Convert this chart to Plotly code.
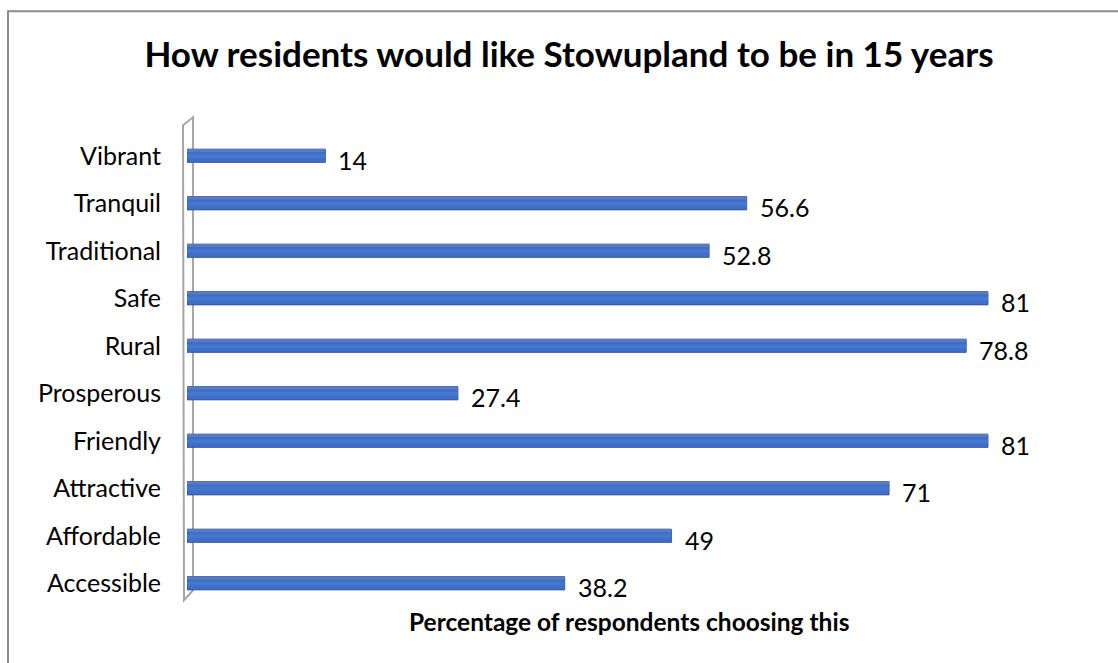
import plotly.graph_objects as go

categories = ["Accessible", "Affordable", "Attractive", "Friendly", "Prosperous",
              "Rural", "Safe", "Traditional", "Tranquil", "Vibrant"]
values = [38.2, 49, 71, 81, 27.4, 78.8, 81, 52.8, 56.6, 14]
value_labels = ["38.2", "49", "71", "81", "27.4", "78.8", "81", "52.8", "56.6", "14"]

W, H = 1118, 663
L, R = 187, 1077
T, B = 131.75, 606.75

def px(x):
    return (x - L) / (R - L)

def py(y):
    return (B - y) / (B - T)

FONT = "Lato"

fig = go.Figure()
# front face
fig.add_trace(go.Bar(
    x=values, y=categories, orientation="h",
    width=0.28, offset=-0.14,
    marker=dict(color="#3F6DC7", line=dict(color="#2F528F", width=0.8)),
    hoverinfo="x+y",
))
# top face (3D effect)
fig.add_trace(go.Bar(
    x=values, y=categories, orientation="h",
    width=0.06, offset=0.08,
    marker=dict(color="#5A7BBE", line=dict(width=0)),
    hoverinfo="skip",
))
# lighter highlight on the front face
fig.add_trace(go.Bar(
    x=values, y=categories, orientation="h",
    width=0.08, offset=-0.05,
    marker=dict(color="#4677CF", line=dict(width=0)),
    hoverinfo="skip",
))

annotations = []
for v, c, t in zip(values, categories, value_labels):
    annotations.append(dict(x=v, y=c, xref="x", yref="y", text=t, showarrow=False,
                            xanchor="left", yanchor="middle", xshift=11, yshift=-4,
                            font=dict(family=FONT, size=25, color="#000000")))

annotations.append(dict(x=px(629), y=py(621), xref="paper", yref="paper",
                        text="<b>Percentage of respondents choosing this</b>",
                        showarrow=False, xanchor="center", yanchor="middle",
                        font=dict(family=FONT, size=24.5, color="#000000")))

shapes = [
    # chart border
    dict(type="rect", xref="paper", yref="paper",
         x0=px(8), x1=px(1140), y0=py(11), y1=py(700),
         line=dict(color="#8C8C8C", width=2), fillcolor="rgba(0,0,0,0)", layer="below"),
    # 3D wall
    dict(type="path", xref="paper", yref="paper",
         path=f"M {px(183)},{py(125)} L {px(193)},{py(117)} L {px(193)},{py(590)} L {px(184)},{py(600)} Z",
         line=dict(color="#A6A6A6", width=2), fillcolor="rgba(0,0,0,0)", layer="below"),
]

fig.update_layout(
    width=W, height=H,
    margin=dict(l=L, r=W - R, t=T, b=H - B, pad=0),
    paper_bgcolor="white", plot_bgcolor="white",
    title=dict(text="<b>How residents would like Stowupland to be in 15 years</b>",
               x=569 / W, xanchor="center", y=1 - 55 / H, yanchor="middle",
               font=dict(family=FONT, size=35, color="#000000")),
    xaxis=dict(range=[0, 90], showgrid=False, zeroline=False, showticklabels=False,
               showline=False, ticks=""),
    yaxis=dict(showgrid=False, zeroline=False, showline=False, ticks="",
               ticklabelstandoff=25,
               tickfont=dict(family=FONT, size=25, color="#000000")),
    annotations=annotations,
    shapes=shapes,
    showlegend=False,
    barmode="overlay",
)

fig.write_html("out.html", config={"displayModeBar": False},
               post_script="document.body.style.margin='0';document.body.style.overflow='hidden';")
